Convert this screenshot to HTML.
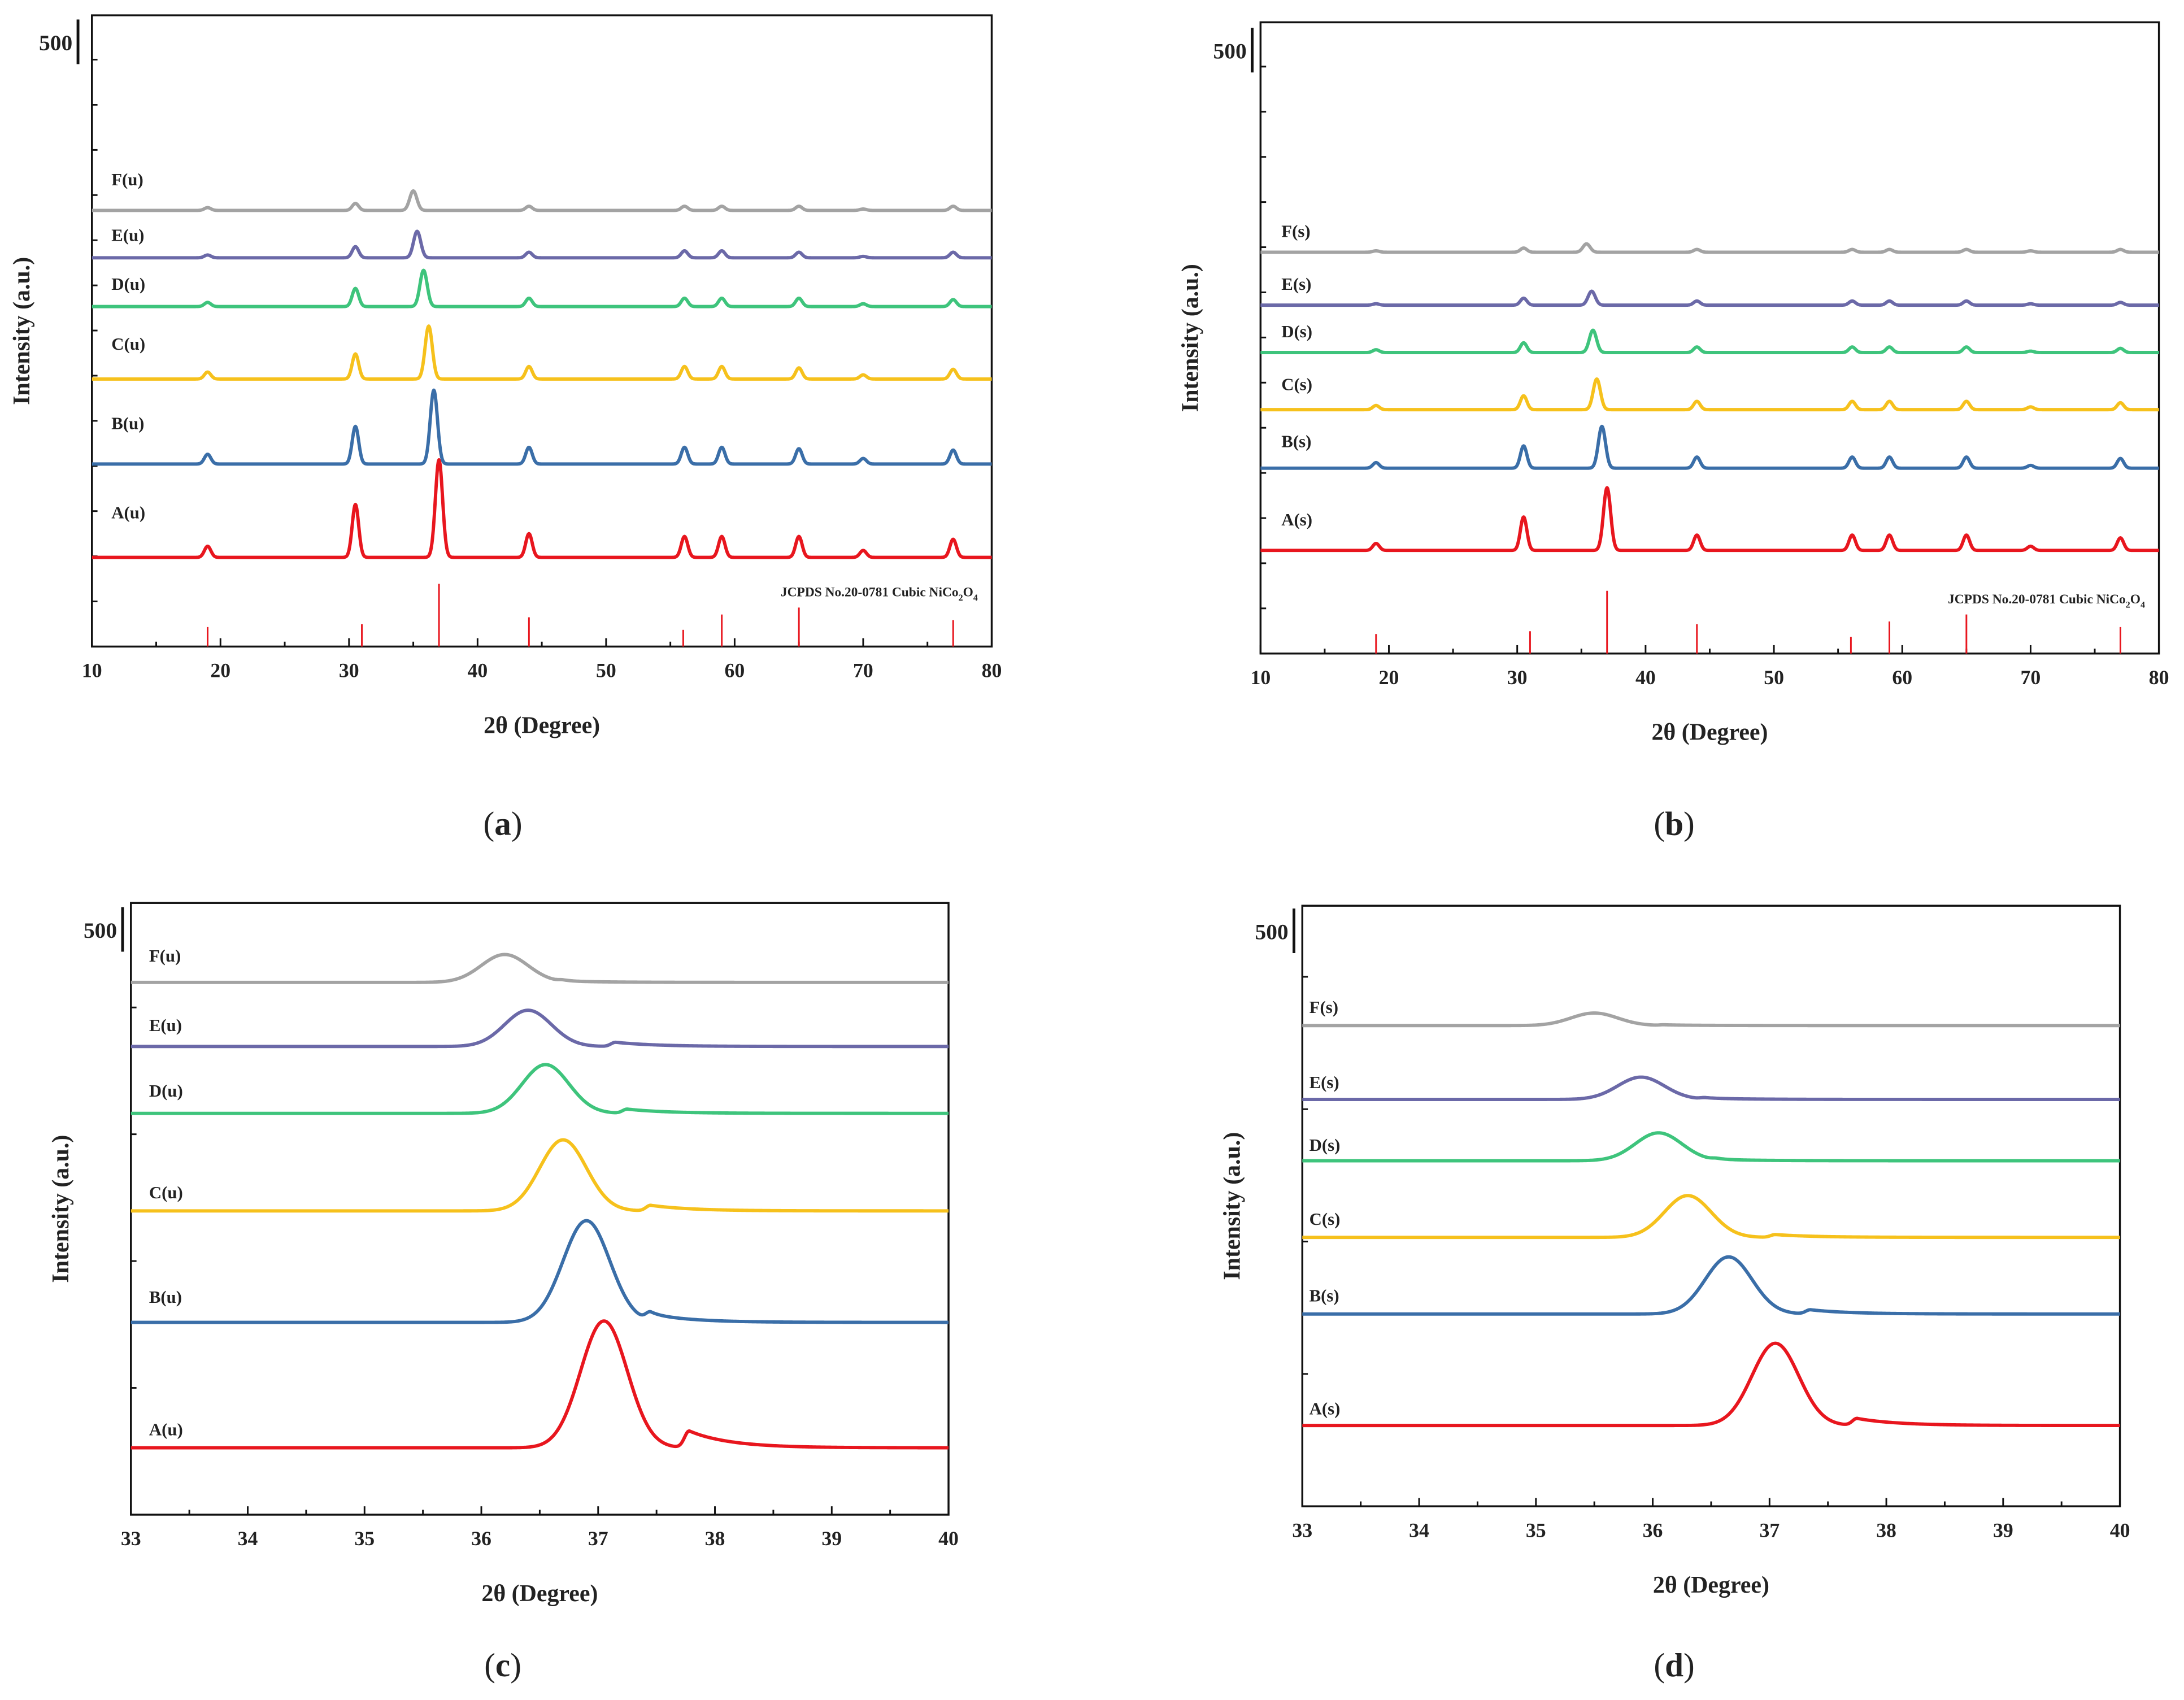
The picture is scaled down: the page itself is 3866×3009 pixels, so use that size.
<!DOCTYPE html>
<html><head><meta charset="utf-8">
<style>
html,body{margin:0;padding:0;background:#fff;}
svg{display:block;}
text{font-family:"Liberation Serif",serif;font-weight:bold;fill:#222;}
</style></head>
<body>
<svg id="fig" width="3866" height="3009" viewBox="0 0 1568 1220" preserveAspectRatio="none" xmlns="http://www.w3.org/2000/svg"></svg>
<script>
const seriesNames = ["A","B","C","D","E","F"];
const colors = ["#e8161e","#3a6ea8","#f6c11c","#3ec47c","#6b69a8","#a3a3a3"];
// Panel a
const aBase = [64,131,192,244,279,313];
const aMainPos = [37.0,36.6,36.2,35.8,35.3,35.0];
const aMainH = [70,53,38,26,19,14];
const aMinorPos = [19,30.5,44,56.1,59,65,70,77];
const aMinorA = [8,38,17,15,15,15,5,13];
const aMinorB = [7,27,12,12,12,11,4,10];
const aMinorC = [5,18,9,9,9,8,3,7];
const aMinorD = [3,13,6,6,6,6,2,5];
const aMinorE = [2,8,4,5,5,4,1,4];
const aMinorF = [2,5,3,3,3,3,1,3];
const aRefPos = [19,31,37,44,56,59,65,77];
const aRefH = [14,16,45,21,12,23,28,19];
// Panel b
const bBase = [74,133,175,216,250,288];
const bMainPos = [37.0,36.6,36.2,35.9,35.8,35.4];
const bMainH = [45,30,22,16,10,6];
const bMinorPos = [19,30.5,44,56.1,59,65,70,77];
const bMinorA = [5,24,11,11,11,11,3,9];
const bMinorB = [4,16,8,8,8,8,2,7];
const bMinorC = [3,10,6,6,6,6,2,5];
const bMinorD = [2,7,4,4,4,4,1,3];
const bMinorE = [1,5,3,3,3,3,1,2];
const bMinorF = [1,3,2,2,2,2,1,2];
const bRefPos = [19,31,37,44,56,59,65,77];
const bRefH = [14,16,45,21,12,23,28,19];
// Panel c
const cBase = [48,138,218,288,336,382];
const cMainPos = [37.05,36.9,36.7,36.55,36.4,36.2];
const cMainH = [91,73,51,35,26,20];
const cShoulderPos = [37.78,37.45,37.45,37.25,37.15,36.7];
const cShoulderH = [12,6,4,3,3,1];
// Panel d
const dBase = [58,138,193,248,292,345];
const dMainPos = [37.05,36.65,36.3,36.05,35.9,35.5];
const dMainH = [59,41,30,20,16,9];
const dShoulderPos = [37.75,37.35,37.05,36.55,36.45,36.1];
const dShoulderH = [5,3,2,1,1,0.5];

const NS="http://www.w3.org/2000/svg";
const svg=document.getElementById('fig');
function mk(tag,attrs,parent){const e=document.createElementNS(NS,tag);for(const k in attrs)e.setAttribute(k,attrs[k]);(parent||svg).appendChild(e);return e;}
function txt(str,x,y,size,parent,anchor){const t=mk('text',{x:x,y:y,'font-size':size,'text-anchor':anchor||'middle'},parent);t.textContent=str;return t;}
function gauss(x,c,s){return Math.exp(-((x-c)*(x-c))/(2*s*s));}

function panel(cfg){
  const g=mk('g',{});
  
  
  const X=v=>cfg.x0+(v-cfg.xmin)/(cfg.xmax-cfg.xmin)*(cfg.x1-cfg.x0);
  const Y=v=>cfg.yb-v;
  const frame=mk('rect',{x:cfg.x0,y:cfg.yt,width:cfg.x1-cfg.x0,height:cfg.yb-cfg.yt,fill:'none',stroke:'#111','stroke-width':1.4},g);
  
  
  for(let v=cfg.xmin;v<=cfg.xmax+1e-9;v+=cfg.minor){
    const major=Math.abs(v/cfg.major-Math.round(v/cfg.major))<1e-6;
    mk('line',{x1:X(v),x2:X(v),y1:cfg.yb,y2:cfg.yb-(major?6:3.5),stroke:'#111','stroke-width':1.2},g);
    if(major){const t=txt(String(Math.round(v)),X(v),cfg.yb+22,14.5,g);
      
      }
  }
  for(let y=cfg.yb;y>cfg.yt+20;y-=cfg.ystep){
    mk('line',{x1:cfg.x0,x2:cfg.x0+4,y1:y,y2:y,stroke:'#111','stroke-width':1.2},g);
  }
  mk('line',{x1:cfg.sbx,x2:cfg.sbx,y1:cfg.sby-16,y2:cfg.sby+16,stroke:'#111','stroke-width':2},g);
  const sb=txt('500',cfg.sbx-4,cfg.sby+6,16,g,'end');
  
  
  const xt=txt('2θ (Degree)',(cfg.x0+cfg.x1)/2,cfg.yb+62,17,g);
  
  
  const yt=txt('Intensity (a.u.)',0,0,17,g);
  yt.setAttribute('transform','translate('+(cfg.x0-45)+','+((cfg.yt+cfg.yb)/2)+') rotate(-90)');
  
  
  const pl=mk('text',{x:cfg.plx,y:cfg.ply,'font-size':24,'text-anchor':'middle',style:'font-weight:normal'},g);
  pl.textContent='('; const bsp=mk('tspan',{style:'font-weight:bold'},pl); bsp.textContent=cfg.letter; const cl=mk('tspan',{style:'font-weight:normal'},pl); cl.textContent=')';
  
  
  if(cfg.refPos){
    cfg.refPos.forEach((p,i)=>{
      const l=mk('line',{x1:X(p),x2:X(p),y1:cfg.yb,y2:Y(cfg.refH[i]),stroke:'#e8161e','stroke-width':1.2},g);
      
      
    });
    const jt=mk('text',{x:cfg.x1-10,y:cfg.yb-36,'font-size':9.5,'text-anchor':'end'},g);
    jt.textContent='JCPDS No.20-0781 Cubic NiCo';
    const s1=mk('tspan',{'font-size':6.5,dy:3},jt); s1.textContent='2';
    const s2=mk('tspan',{dy:-3},jt); s2.textContent='O';
    const s3=mk('tspan',{'font-size':6.5,dy:3},jt); s3.textContent='4';
    
    
  }
  for(let s=0;s<6;s++){
    let d='';
    for(let x=cfg.xmin;x<=cfg.xmax+1e-9;x+=cfg.step){
      let v=cfg.base[s]+cfg.mainH[s]*gauss(x,cfg.mainPos[s],cfg.sig);
      if(cfg.minorPos){cfg.minorPos.forEach((p,i)=>{v+=cfg.minorH[s][i]*gauss(x,p,cfg.sig*0.9);});}
      if(cfg.shPos){v+=cfg.shH[s]*(x>cfg.shPos[s]?Math.exp(-(x-cfg.shPos[s])/0.35):gauss(x,cfg.shPos[s],0.04));}
      d+=(d?'L':'M')+X(x).toFixed(2)+','+Y(v).toFixed(2);
    }
    const p=mk('path',{d:d,fill:'none',stroke:colors[s],'stroke-width':2.4,'stroke-linejoin':'round'},g);
    
    
    const lb=txt(seriesNames[s]+'('+cfg.suffix+')',cfg.lx,cfg.ly[s],12.5,g,'start');
    
    
  }
}

panel({name:'panel-a',letter:'a',suffix:'u',x0:66,x1:712,yt:11,yb:464,xmin:10,xmax:80,major:10,minor:5,ystep:32.4,
  sbx:56,sby:30,plx:361,ply:599,base:aBase,mainPos:aMainPos,mainH:aMainH,minorPos:aMinorPos,
  minorH:[aMinorA,aMinorB,aMinorC,aMinorD,aMinorE,aMinorF],sig:0.28,step:0.05,
  refPos:aRefPos,refH:aRefH,lx:80,ly:[372,308,251,208,173,133]});
panel({name:'panel-b',letter:'b',suffix:'s',x0:905,x1:1550,yt:16,yb:469,xmin:10,xmax:80,major:10,minor:5,ystep:32.4,
  sbx:899,sby:36,plx:1202,ply:599,base:bBase,mainPos:bMainPos,mainH:bMainH,minorPos:bMinorPos,
  minorH:[bMinorA,bMinorB,bMinorC,bMinorD,bMinorE,bMinorF],sig:0.28,step:0.05,
  refPos:bRefPos,refH:bRefH,lx:920,ly:[377,321,280,242,208,170]});
panel({name:'panel-c',letter:'c',suffix:'u',x0:94,x1:681,yt:648,yb:1087,xmin:33,xmax:40,major:1,minor:0.5,ystep:91,
  sbx:88,sby:667,plx:361,ply:1203,base:cBase,mainPos:cMainPos,mainH:cMainH,shPos:cShoulderPos,shH:cShoulderH,sig:0.2,step:0.01,
  lx:107,ly:[1030,935,860,787,740,690]});
panel({name:'panel-d',letter:'d',suffix:'s',x0:935,x1:1522,yt:650,yb:1081,xmin:33,xmax:40,major:1,minor:0.5,ystep:95,
  sbx:929,sby:668,plx:1202,ply:1203,base:dBase,mainPos:dMainPos,mainH:dMainH,shPos:dShoulderPos,shH:dShoulderH,sig:0.2,step:0.01,
  lx:940,ly:[1015,934,879,826,781,727]});
</script>
</body></html>
